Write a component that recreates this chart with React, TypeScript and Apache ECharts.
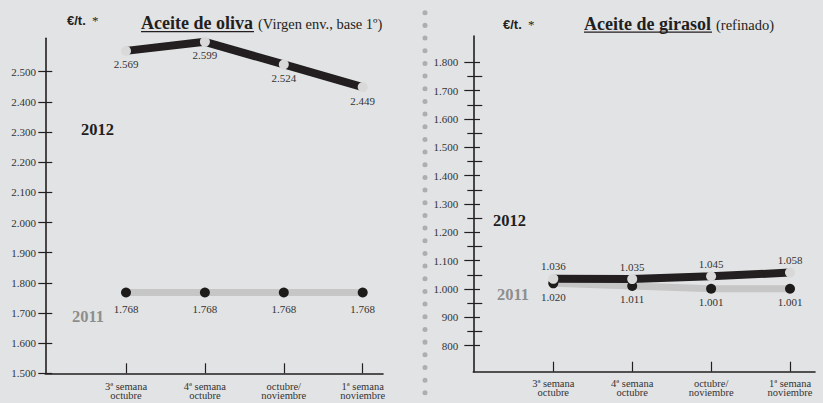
import React, { useEffect, useRef } from "react";
import * as echarts from "echarts";

const categories = ["3ª semana\noctubre", "4ª semana\noctubre", "octubre/\nnoviembre", "1ª semana\nnoviembre"];
const oliva2012 = [2569, 2599, 2524, 2449];
const oliva2011 = [1768, 1768, 1768, 1768];
const girasol2012 = [1036, 1035, 1045, 1058];
const girasol2011 = [1020, 1011, 1001, 1001];
const olivaTickRange = [1500, 2500];
const girasolTickRange = [800, 1800];
const tickStep = 100;

const SERIF = '"Liberation Serif", "Times New Roman", serif';
const SANS = '"Liberation Sans", Arial, sans-serif';
const INK = "#231f20";
const GREY_LINE = "#c6c6c6";
const GREY_DOT = "#d9d9d9";
const GREY_TEXT = "#8e8e8e";
const BG = "#e2e3e5";

const fmt = (v: number) => String(Math.round(v)).replace(/\B(?=(\d{3})+(?!\d))/g, ".");

type Panel = {
  axisX: number;
  xEnd: number;
  catX0: number;
  catX1: number;
  ticks: number[];
  lowPx: number;
  highPx: number;
  bottomPx: number;
  topPx: number;
  majorL: number;
  majorR: number;
  labelMargin: number;
  minor: { L: number; R: number } | null;
  s2012: number[];
  s2011: number[];
  pos2012: "top" | "bottom";
  dist2012: number;
  dist2011: number;
  catMargin: number;
};

const panels: Panel[] = [
  {
    axisX: 45.3, xEnd: 383, catX0: 126, catX1: 362.7, ticks: olivaTickRange,
    lowPx: 373.3, highPx: 71.7, bottomPx: 373.3, topPx: 38.3,
    majorL: 7, majorR: 7, labelMargin: 16.3, minor: null,
    s2012: oliva2012, s2011: oliva2011, pos2012: "bottom", dist2012: 3, dist2011: 6, catMargin: 8,
  },
  {
    axisX: 473.3, xEnd: 815, catX0: 553.3, catX1: 790, ticks: girasolTickRange,
    lowPx: 345.7, highPx: 62.3, bottomPx: 371.7, topPx: 36,
    majorL: 9, majorR: 6.7, labelMargin: 21.7, minor: { L: 6, R: 9 },
    s2012: girasol2012, s2011: girasol2011, pos2012: "top", dist2012: 2, dist2011: 3, catMargin: 7,
  },
];

function buildOption() {
  const grid: any[] = [];
  const xAxis: any[] = [];
  const yAxis: any[] = [];
  const series: any[] = [];

  panels.forEach((p) => {
    const [lowVal, highVal] = p.ticks;
    const ppu = (p.lowPx - p.highPx) / (highVal - lowVal);
    const valAt = (px: number) => lowVal + (p.lowPx - px) / ppu;
    const pxAt = (v: number) => p.lowPx - (v - lowVal) * ppu;
    const frameMin = valAt(p.bottomPx);
    const frameMax = valAt(p.topPx);

    // frame (axis lines)
    let gi = grid.length;
    grid.push({ left: p.axisX, top: p.topPx, width: p.xEnd - p.axisX, height: p.bottomPx - p.topPx });
    xAxis.push({
      gridIndex: gi, type: "value", min: 0, max: 1,
      axisLine: { show: true, lineStyle: { color: INK, width: 1.6 } },
      axisTick: { show: false }, axisLabel: { show: false }, splitLine: { show: false },
    });
    yAxis.push({
      gridIndex: gi, type: "value", min: frameMin, max: frameMax,
      axisLine: { show: true, lineStyle: { color: INK, width: 1.6 } },
      axisTick: { show: false }, axisLabel: { show: false }, splitLine: { show: false },
    });

    // major ticks + labels
    gi = grid.length;
    grid.push({ left: p.axisX, top: p.highPx, width: p.xEnd - p.axisX, height: p.lowPx - p.highPx });
    xAxis.push({ gridIndex: gi, type: "value", show: false, min: 0, max: 1 });
    yAxis.push({
      gridIndex: gi, type: "value", min: lowVal, max: highVal, interval: tickStep,
      offset: -p.majorR,
      axisLine: { show: false },
      axisTick: { show: true, length: p.majorL + p.majorR, lineStyle: { color: INK, width: 1.2 } },
      axisLabel: {
        show: true, margin: p.labelMargin, formatter: (v: number) => fmt(v),
        fontFamily: SERIF, fontSize: 11, color: "#333",
      },
      splitLine: { show: false },
    });

    // minor ticks
    if (p.minor) {
      const mLow = lowVal + tickStep / 2;
      const mHigh = highVal - tickStep / 2;
      gi = grid.length;
      grid.push({ left: p.axisX, top: pxAt(mHigh), width: p.xEnd - p.axisX, height: pxAt(mLow) - pxAt(mHigh) });
      xAxis.push({ gridIndex: gi, type: "value", show: false, min: 0, max: 1 });
      yAxis.push({
        gridIndex: gi, type: "value", min: mLow, max: mHigh, interval: tickStep,
        offset: -p.minor.R,
        axisLine: { show: false },
        axisTick: { show: true, length: p.minor.L + p.minor.R, lineStyle: { color: INK, width: 1.2 } },
        axisLabel: { show: false },
        splitLine: { show: false },
      });
    }

    // series grid
    gi = grid.length;
    grid.push({ left: p.catX0, top: p.topPx, width: p.catX1 - p.catX0, height: p.bottomPx - p.topPx });
    xAxis.push({
      gridIndex: gi, type: "category", data: categories, boundaryGap: false,
      axisLine: { show: false },
      axisTick: { show: true, inside: true, length: 10, interval: 0, lineStyle: { color: INK, width: 1.2 } },
      axisLabel: {
        show: true, interval: 0, margin: p.catMargin, fontFamily: SERIF, fontSize: 10.5,
        lineHeight: 9.5, color: "#333",
      },
      splitLine: { show: false },
    });
    yAxis.push({ gridIndex: gi, type: "value", show: false, min: frameMin, max: frameMax, splitLine: { show: false } });

    const labelBase = { show: true, formatter: (d: any) => fmt(d.value), fontFamily: SERIF, fontSize: 11, color: "#333" };
    series.push({
      type: "line", name: "2011", xAxisIndex: gi, yAxisIndex: gi, data: p.s2011, z: 2,
      lineStyle: { color: GREY_LINE, width: 7 },
      symbol: "circle", symbolSize: 10, itemStyle: { color: "#1e1b1b" },
      label: { ...labelBase, position: "bottom", distance: p.dist2011 },
      emphasis: { disabled: true }, silent: true,
    });
    series.push({
      type: "line", name: "2012", xAxisIndex: gi, yAxisIndex: gi, data: p.s2012, z: 3,
      lineStyle: { color: INK, width: 8 },
      symbol: "circle", symbolSize: 10, itemStyle: { color: GREY_DOT },
      label: { ...labelBase, position: p.pos2012, distance: p.dist2012 },
      emphasis: { disabled: true }, silent: true,
    });
  });

  const txt = (text: string, x: number, y: number, font: string, fill: string, align = "left") => ({
    type: "text", x, y, silent: true,
    style: { text, font, fill, textAlign: align, textVerticalAlign: "middle", verticalAlign: "middle" },
  });
  const uline = (x1: number, x2: number, y: number) => ({
    type: "line", silent: true, shape: { x1, y1: y, x2, y2: y }, style: { stroke: INK, lineWidth: 1.2 },
  });

  const graphic: any[] = [
    {
      type: "line", silent: true,
      shape: { x1: 425, y1: 12.7, x2: 425, y2: 400 },
      style: { stroke: "#aeaeae", lineWidth: 5, lineCap: "round", lineDash: [0.01, 12.66] },
    },
    // left panel
    txt("€/t.", 67, 20.5, `bold 13px ${SANS}`, INK),
    txt("*", 92, 20, `13px ${SERIF}`, INK),
    txt("Aceite de oliva", 141, 23.3, `bold 18px ${SERIF}`, INK),
    uline(141, 254, 31.7),
    txt("(Virgen env., base 1º)", 258, 24.3, `14.5px ${SERIF}`, INK),
    txt("2012", 81, 129.5, `bold 16.5px ${SERIF}`, INK),
    txt("2011", 72, 316, `bold 16.5px ${SERIF}`, GREY_TEXT),
    // right panel
    txt("€/t.", 503, 24.5, `bold 13px ${SANS}`, INK),
    txt("*", 528, 24, `13px ${SERIF}`, INK),
    txt("Aceite de girasol", 584, 24, `bold 18px ${SERIF}`, INK),
    uline(584, 712, 32.2),
    txt("(refinado)", 716, 25, `14.5px ${SERIF}`, INK),
    txt("2012", 493, 220.7, `bold 16.5px ${SERIF}`, INK),
    txt("2011", 497, 294, `bold 16.5px ${SERIF}`, GREY_TEXT),
  ];

  return {
    animation: false,
    backgroundColor: BG,
    textStyle: { fontFamily: SERIF },
    grid, xAxis, yAxis, series, graphic,
    tooltip: { show: false },
  };
}

export default function App() {
  const ref = useRef<HTMLDivElement>(null);
  useEffect(() => {
    const prevMargin = document.body.style.margin;
    document.body.style.margin = "0";
    if (!ref.current) return;
    const chart = echarts.init(ref.current, undefined, { renderer: "svg" });
    chart.setOption(buildOption() as any);
    return () => {
      chart.dispose();
      document.body.style.margin = prevMargin;
    };
  }, []);
  return (
    <div style={{ position: "fixed", left: 0, top: 0, width: 823, height: 403, background: BG }}>
      <div ref={ref} style={{ width: 823, height: 403 }} />
    </div>
  );
}
